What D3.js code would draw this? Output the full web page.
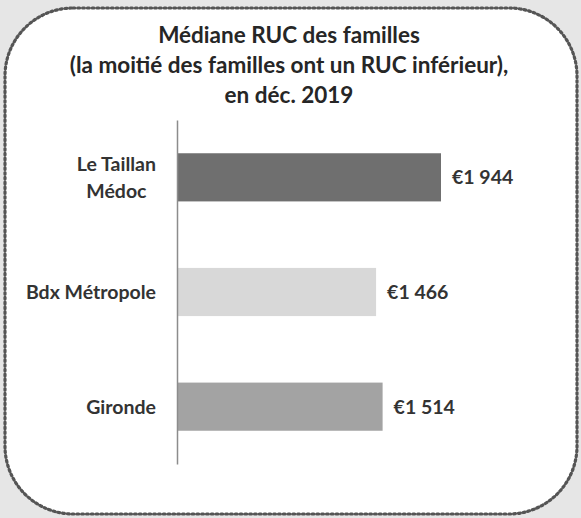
<!DOCTYPE html>
<html>
<head>
<meta charset="utf-8">
<script src="https://cdn.jsdelivr.net/npm/d3@7"></script>
<style>
  body { margin: 0; background: #e6e6e6; }
  svg { display: block; }
</style>
</head>
<body>
<svg id="chart" width="581" height="518"></svg>
<script>
  var categories = ['Le Taillan Médoc', 'Bdx Métropole', 'Gironde'];
  var labelLines = [['Le Taillan', 'Médoc'], ['Bdx Métropole'], ['Gironde']];
  var values = [1944, 1466, 1514];
  var barColors = ['#6f6f6f', '#d8d8d8', '#a3a3a3'];
  var titleLines = ['Médiane RUC des familles', '(la moitié des familles ont un RUC inférieur),', 'en déc. 2019'];

  var font = 'Lato, "Open Sans", sans-serif';
  var svg = d3.select('#chart');

  // rounded frame with dotted border
  svg.append('rect')
    .attr('x', 5).attr('y', 8)
    .attr('width', 572).attr('height', 506)
    .attr('rx', 68).attr('ry', 68)
    .style('fill', '#ffffff')
    .style('stroke', '#555555')
    .style('stroke-width', 3.2)
    .style('stroke-dasharray', '1.8 3')
    .style('stroke-linecap', 'round');

  // title
  svg.append('g').selectAll('text')
    .data(titleLines)
    .enter().append('text')
    .attr('x', 289)
    .attr('y', function(d, i) { return 43 + i * 30; })
    .attr('text-anchor', 'middle')
    .style('font-family', font)
    .style('font-weight', 'bold')
    .style('font-size', '22.5px')
    .style('fill', '#262626')
    .text(function(d) { return d; });

  var x = d3.scaleLinear().domain([0, d3.max(values)]).range([177, 441]);
  var y = d3.scaleBand().domain(categories).range([120, 464]).paddingInner(0.58).paddingOuter(0.29);

  // bars
  svg.append('g').selectAll('rect')
    .data(values)
    .enter().append('rect')
    .attr('x', x(0))
    .attr('y', function(d, i) { return y(categories[i]); })
    .attr('width', function(d) { return x(d) - x(0); })
    .attr('height', y.bandwidth())
    .style('fill', function(d, i) { return barColors[i]; });

  // axis line
  var yAxis = svg.append('g')
    .attr('transform', 'translate(' + x(0) + ',0)')
    .call(d3.axisLeft(y).tickSize(0).tickFormat(''));
  yAxis.select('.domain').style('stroke', '#8c8c8c').style('stroke-width', 1.5);

  // category labels (wrapped labels are centred on their widest line)
  var labelRight = 156;
  svg.append('g').selectAll('text')
    .data(categories)
    .enter().append('text')
    .style('font-family', font)
    .style('font-weight', 'bold')
    .style('font-size', '19.5px')
    .style('fill', '#333333')
    .each(function(d, i) {
      var t = d3.select(this);
      var lines = labelLines[i];
      var cy = y(d) + y.bandwidth() / 2;
      var spans = lines.map(function(line, j) {
        return t.append('tspan')
          .attr('y', cy + 7 + (j - (lines.length - 1) / 2) * 27)
          .text(line);
      });
      if (lines.length === 1) {
        t.attr('text-anchor', 'end');
        spans[0].attr('x', labelRight);
      } else {
        var w = d3.max(spans, function(s) { return s.node().getComputedTextLength(); });
        t.attr('text-anchor', 'middle');
        spans.forEach(function(s) { s.attr('x', labelRight - w / 2); });
      }
    });

  // value labels
  var fmt = function(v) { return '€' + d3.format(',')(v).replace(',', ' '); };
  svg.append('g').selectAll('text')
    .data(values)
    .enter().append('text')
    .attr('x', function(d) { return x(d) + 11; })
    .attr('y', function(d, i) { return y(categories[i]) + y.bandwidth() / 2 + 7; })
    .style('font-family', font)
    .style('font-weight', 'bold')
    .style('font-size', '19.5px')
    .style('fill', '#333333')
    .text(fmt);
</script>
</body>
</html>
